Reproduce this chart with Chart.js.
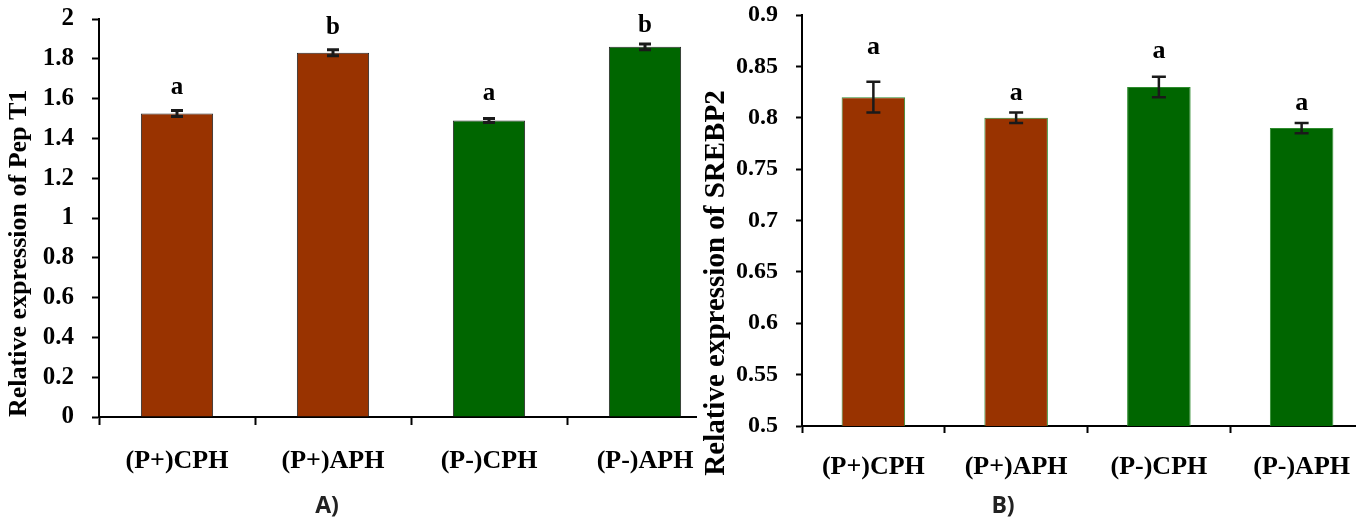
<!DOCTYPE html>
<html><head><meta charset="utf-8">
<script src="https://cdn.jsdelivr.net/npm/chart.js@4.4.0/dist/chart.umd.min.js"></script>
<style>
html,body{margin:0;padding:0;background:#fff;overflow:hidden;width:1356px;height:521px;}
#wa{position:absolute;left:0;top:0;width:723px;height:521px;}
#wb{position:absolute;left:697px;top:0;width:676px;height:521px;background:#fff;z-index:2;}
.cap{position:absolute;top:489px;font:bold 23px "Open Sans";color:#222;z-index:3;transform:translateX(-50%);line-height:30px;}
</style></head><body>
<div id="wa"><canvas id="ca" width="723" height="521"></canvas></div>
<div id="wb"><canvas id="cb" width="676" height="521"></canvas></div>
<div class="cap" style="left:327px">A)</div>
<div class="cap" style="left:1003px">B)</div>
<script>
const categories = ['(P+)CPH', '(P+)APH', '(P-)CPH', '(P-)APH'];
const barColors = ['#993300', '#993300', '#006600', '#006600'];

const pept1Values = [1.525, 1.83, 1.49, 1.86];
const pept1Errors = [0.015, 0.015, 0.01, 0.015];
const pept1Letters = ['a', 'b', 'a', 'b'];
const pept1LetterAt = [1.624, 1.923, 1.594, 1.934];
const pept1Ticks = [0, 0.2, 0.4, 0.6, 0.8, 1, 1.2, 1.4, 1.6, 1.8, 2];

const srebp2Values = [0.82, 0.80, 0.83, 0.79];
const srebp2Errors = [0.015, 0.005, 0.01, 0.005];
const srebp2Letters = ['a', 'a', 'a', 'a'];
const srebp2LetterAt = [0.862, 0.817, 0.858, 0.808];
const srebp2Ticks = [0.5, 0.55, 0.6, 0.65, 0.7, 0.75, 0.8, 0.85, 0.9];

const SERIF = '"Liberation Serif", "Times New Roman", serif';

const errLetters = {
  id: 'errLetters',
  afterDatasetsDraw(chart, args, o) {
    const ctx = chart.ctx, ys = chart.scales.y, meta = chart.getDatasetMeta(0);
    ctx.save();
    meta.data.forEach((bar, i) => {
      const x = bar.x, v = o.values[i], e = o.errors[i];
      const yt = ys.getPixelForValue(v + e), yb = ys.getPixelForValue(v - e);
      ctx.strokeStyle = o.color; ctx.lineWidth = o.lineWidth; ctx.lineCap = 'butt';
      ctx.beginPath();
      ctx.moveTo(x, yt); ctx.lineTo(x, yb);
      ctx.moveTo(x - o.cap / 2, yt); ctx.lineTo(x + o.cap / 2, yt);
      ctx.moveTo(x - o.cap / 2, yb); ctx.lineTo(x + o.cap / 2, yb);
      ctx.stroke();
      ctx.fillStyle = '#000';
      ctx.font = o.letterFont;
      ctx.textAlign = 'center';
      ctx.textBaseline = 'alphabetic';
      ctx.fillText(o.letters[i], x, ys.getPixelForValue(o.letterAt[i]));
    });
    ctx.restore();
  }
};

const sideTitle = {
  id: 'sideTitle',
  afterDraw(chart, args, o) {
    if (!o || !o.text) return;
    const ctx = chart.ctx;
    ctx.save();
    ctx.translate(o.x, o.y);
    ctx.rotate(-Math.PI / 2);
    ctx.font = o.font;
    ctx.fillStyle = '#000';
    ctx.textAlign = 'center';
    ctx.textBaseline = 'middle';
    ctx.fillText(o.text, 0, 0);
    ctx.restore();
  }
};

function makeChart(id, c) {
  return new Chart(document.getElementById(id), {
    type: 'bar',
    data: {
      labels: categories,
      datasets: [{
        data: c.values,
        backgroundColor: barColors,
        borderColor: c.border,
        borderWidth: 1,
        barPercentage: c.barPct,
        categoryPercentage: 1
      }]
    },
    options: {
      responsive: false,
      animation: false,
      events: [],
      layout: { padding: { top: c.top, left: 0, right: 0, bottom: 0 } },
      plugins: {
        legend: { display: false },
        tooltip: { enabled: false },
        errLetters: {
          values: c.values, errors: c.errors, letters: c.letters, letterAt: c.letterAt,
          color: '#1a1a1a', lineWidth: c.errWidth, cap: c.cap,
          letterFont: 'bold ' + c.letterSize + 'px ' + SERIF
        },
        sideTitle: c.side || {}
      },
      scales: {
        x: {
          grid: { display: true, offset: true, drawOnChartArea: false, drawTicks: true,
                  tickLength: c.xTick, tickWidth: 2, tickColor: '#000' },
          border: { display: true, color: '#000', width: 2 },
          ticks: { color: '#000', font: { family: SERIF, weight: 'bold', size: c.xFont },
                   padding: c.xPad, maxRotation: 0, autoSkip: false },
          afterFit(s) { s.height = c.xHeight; s.paddingLeft = 0; s.paddingRight = 0; }
        },
        y: {
          min: c.ticks[0], max: c.ticks[c.ticks.length - 1],
          afterBuildTicks(s) { s.ticks = c.ticks.map(v => ({ value: v })); },
          grid: { display: true, drawOnChartArea: false, drawTicks: true,
                  tickLength: c.yTick, tickWidth: 2, tickColor: '#000' },
          border: { display: true, color: '#000', width: 2 },
          ticks: { color: '#000', font: { family: SERIF, weight: 'bold', size: c.yFont },
                   padding: c.yPad, callback: v => String(v) },
          title: c.title || { display: false },
          afterFit(s) { s.width = c.yWidth; s.paddingTop = 0; s.paddingBottom = 0; }
        }
      }
    },
    plugins: [errLetters, sideTitle]
  });
}

makeChart('ca', {
  values: pept1Values, errors: pept1Errors, letters: pept1Letters, letterAt: pept1LetterAt,
  ticks: pept1Ticks, border: '#2a2a2a', barPct: 0.463, top: 19,
  errWidth: 3, cap: 12, letterSize: 25,
  xTick: 8, xFont: 26, xPad: 21, xHeight: 104,
  yTick: 7, yFont: 25, yPad: 18, yWidth: 99,
  title: { display: true, text: 'Relative expression of Pep T1', align: 'start', color: '#000',
           font: { family: SERIF, weight: 'bold', size: 26 }, padding: { top: 4, bottom: 0 } }
});

makeChart('cb', {
  values: srebp2Values, errors: srebp2Errors, letters: srebp2Letters, letterAt: srebp2LetterAt,
  ticks: srebp2Ticks, border: '#2e8b2e', barPct: 0.445, top: 15,
  errWidth: 2.5, cap: 14, letterSize: 26,
  xTick: 7, xFont: 26, xPad: 19, xHeight: 95,
  yTick: 6, yFont: 24, yPad: 18, yWidth: 105,
  side: { text: 'Relative expression of SREBP2', x: 20, y: 283, font: 'bold 29px ' + SERIF }
});
</script>
</body></html>
